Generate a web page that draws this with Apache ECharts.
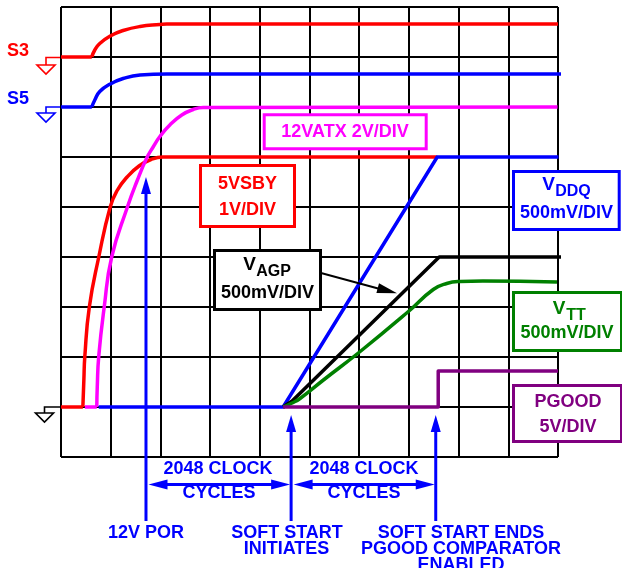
<!DOCTYPE html>
<html><head><meta charset="utf-8">
<script src="https://cdn.jsdelivr.net/npm/echarts@6/dist/echarts.min.js"></script>
<style>html,body{margin:0;padding:0;background:#fff}#c{width:622px;height:568px}</style>
</head><body><div id="c"></div>
<script>
// x in grid divisions (0..10), y in grid divisions (0..9)
const s3Base = [[0, 8], [0.62, 8]];
const s3Rise = [[0.62, 8], [0.68, 8.14], [0.78, 8.27], [0.99, 8.42], [1.25, 8.53], [1.59, 8.61], [1.99, 8.65], [2.13, 8.66], [10, 8.66]];
const s5Base = [[0, 7], [0.62, 7]];
const s5Rise = [[0.62, 7], [0.68, 7.14], [0.78, 7.31], [0.99, 7.46], [1.25, 7.57], [1.59, 7.64], [2.13, 7.66], [10.06, 7.66]];
const vsbyBase = [[0, 1], [0.44, 1]];
const vsbyRise = [[0.44, 1], [0.46, 1.54], [0.48, 2.02], [0.57, 3.0], [0.76, 4.0], [0.99, 5.0], [1.13, 5.33], [1.33, 5.6], [1.57, 5.82], [1.81, 5.95], [2.05, 6.0], [7.57, 6.0]];
const atxBase = [[0.48, 1], [0.72, 1]];
const atxRise = [[0.72, 1], [0.73, 1.41], [0.76, 2.02], [0.87, 3.0], [1.02, 4.0], [1.34, 5.01], [1.53, 5.52], [1.72, 5.97], [1.86, 6.21], [1.99, 6.41], [2.19, 6.64], [2.43, 6.84], [2.66, 6.95], [2.86, 6.99], [9.99, 7.0]];
const vddq = [[0.76, 1], [4.47, 1], [7.57, 6.0], [10.01, 6.0]];
const vagp = [[4.47, 1], [4.65, 1.12], [7.61, 4.0], [10.07, 4.0]];
const vtt = [[4.47, 1], [4.65, 1.08], [4.81, 1.17], [5.28, 1.54], [6.02, 2.11], [6.99, 2.91], [7.49, 3.35], [7.76, 3.47], [8.03, 3.51], [8.49, 3.52], [9.98, 3.5]];
const pgood = [[4.47, 1], [7.59, 1], [7.59, 1.72], [10, 1.72]];
// event markers: x position, arrow tip y, bottom y
const markers = [[1.71, 5.6, -1.28], [4.63, 0.84, -1.28], [7.54, 0.84, -1.28]];
// 2048-cycle spans: from x, to x, y
const spans = [[1.71, 4.63, -0.55], [4.63, 7.54, -0.55]];

const RED = '#ff0000', BLUE = '#0000ff', MAG = '#ff00ff', GRN = '#008000', PUR = '#800080', BLK = '#000000';
const FONT = '"Liberation Sans", Arial, sans-serif';

function ln(data, color, smooth, z) {
  return { type: 'line', data: data, symbol: 'none', smooth: smooth ? 0.5 : false, clip: false, z: z || 2,
    lineStyle: { color: color, width: 3.5, join: 'round' }, silent: true, animation: false };
}

const series = [
  ln(s3Base, RED), ln(s3Rise, RED, true),
  ln(s5Base, BLUE), ln(s5Rise, BLUE, true),
  ln(vsbyBase, RED), ln(vsbyRise, RED, true),
  ln(atxBase, MAG, false, 3), ln(atxRise, MAG, true, 3),
  ln(vddq, BLUE, false, 4),
  ln(vagp, BLK, false, 5),
  ln(vtt, GRN, true, 5),
  ln(pgood, PUR, false, 6),
  {
    type: 'custom', data: markers, z: 7, silent: true, animation: false,
    renderItem: function (params, api) {
      const p = api.coord([api.value(0), api.value(1)]);
      const b = api.coord([api.value(0), api.value(2)]);
      return { type: 'group', children: [
        { type: 'line', shape: { x1: p[0], y1: p[1] + 14, x2: b[0], y2: b[1] }, style: { stroke: BLUE, lineWidth: 3 } },
        { type: 'polygon', shape: { points: [[p[0], p[1]], [p[0] - 5, p[1] + 17], [p[0] + 5, p[1] + 17]] }, style: { fill: BLUE } }
      ] };
    }
  },
  {
    type: 'custom', data: spans, z: 7, silent: true, animation: false,
    renderItem: function (params, api) {
      const a = api.coord([api.value(0), api.value(2)]);
      const c = api.coord([api.value(1), api.value(2)]);
      const y = a[1], L = a[0] + 2.5, R = c[0] - 1;
      return { type: 'group', children: [
        { type: 'line', shape: { x1: L + 15, y1: y, x2: R - 15, y2: y }, style: { stroke: BLUE, lineWidth: 3 } },
        { type: 'polygon', shape: { points: [[L, y], [L + 19, y - 5], [L + 19, y + 5]] }, style: { fill: BLUE } },
        { type: 'polygon', shape: { points: [[R, y], [R - 19, y - 5], [R - 19, y + 5]] }, style: { fill: BLUE } }
      ] };
    }
  }
];

function txt(t, x, y, color, size) {
  return { type: 'text', z: 101, style: { text: t, x: x, y: y, fill: color, font: 'bold ' + (size || 18) + 'px ' + FONT, textAlign: 'center', textVerticalAlign: 'middle' } };
}
function box(x, y, w, h, color) {
  return { type: 'rect', z: 100, shape: { x: x, y: y, width: w, height: h }, style: { fill: '#fff', stroke: color, lineWidth: 3 } };
}
function gnd(x0, y0, xs, y1, y2, color) {
  return [
    { type: 'polyline', z: 100, shape: { points: [[x0, y0], [xs, y0], [xs, y1]] }, style: { stroke: color, lineWidth: 1.6, fill: null } },
    { type: 'polygon', z: 100, shape: { points: [[xs - 9, y1], [xs + 9, y1], [xs, y2]] }, style: { stroke: color, lineWidth: 1.6, fill: '#fff' } }
  ];
}

const graphics = [].concat(
  [txt('S3', 18, 51, RED), txt('S5', 18, 99, BLUE)],
  gnd(60, 57.5, 46, 65, 74, RED),
  gnd(60, 107, 46, 113, 122, BLUE),
  gnd(60, 407, 44.5, 413, 422, BLK),
  [box(264.2, 114.8, 162, 34, MAG), txt('12VATX 2V/DIV', 345, 132.5, MAG)],
  [box(200.5, 165.5, 94, 61, RED), txt('5VSBY', 247.5, 184, RED), txt('1V/DIV', 247.5, 210, RED)],
  [box(513.5, 171.5, 105.7, 58, BLUE), txt('V', 548.5, 185, BLUE, 19), txt('DDQ', 573, 192, BLUE, 16), txt('500mV/DIV', 566.5, 213, BLUE)],
  [box(214.5, 250.5, 106, 59, BLK), txt('V', 249.5, 265, BLK, 19), txt('AGP', 273.5, 272, BLK, 16), txt('500mV/DIV', 267.5, 293, BLK)],
  [box(513.5, 292.5, 108, 58, GRN), txt('V', 559, 309, GRN, 19), txt('TT', 576, 316, GRN, 16), txt('500mV/DIV', 567, 333, GRN)],
  [box(513.5, 385.5, 108, 56, PUR), txt('PGOOD', 568, 401.7, PUR), txt('5V/DIV', 568, 426.7, PUR)],
  [
    { type: 'line', z: 102, shape: { x1: 321, y1: 273, x2: 380, y2: 289 }, style: { stroke: BLK, lineWidth: 2 } },
    { type: 'polygon', z: 102, shape: { points: [[397, 293.3], [376.4, 292.9], [379, 283.3]] }, style: { fill: BLK } }
  ],
  [
    txt('2048 CLOCK', 218, 469, BLUE), txt('CYCLES', 219, 493, BLUE),
    txt('2048 CLOCK', 364, 469, BLUE), txt('CYCLES', 364, 493, BLUE),
    txt('12V POR', 146, 533.5, BLUE),
    txt('SOFT START', 287, 533, BLUE), txt('INITIATES', 286.5, 549, BLUE),
    txt('SOFT START ENDS', 461, 533, BLUE), txt('PGOOD COMPARATOR', 461, 549, BLUE), txt('ENABLED', 461, 565.5, BLUE)
  ]
);

const chart = echarts.init(document.getElementById('c'), null, { renderer: 'canvas' });
chart.setOption({
  animation: false,
  backgroundColor: '#fff',
  grid: { left: 61, right: 64, top: 7, bottom: 111, containLabel: false },
  xAxis: { type: 'value', min: 0, max: 10, interval: 1, axisLine: { show: false }, axisTick: { show: false }, axisLabel: { show: false },
    splitLine: { show: true, lineStyle: { color: '#000', width: 2 } } },
  yAxis: { type: 'value', min: 0, max: 9, interval: 1, axisLine: { show: false }, axisTick: { show: false }, axisLabel: { show: false },
    splitLine: { show: true, lineStyle: { color: '#000', width: 2 } } },
  series: series,
  graphic: { elements: graphics }
});
</script>
</body></html>
